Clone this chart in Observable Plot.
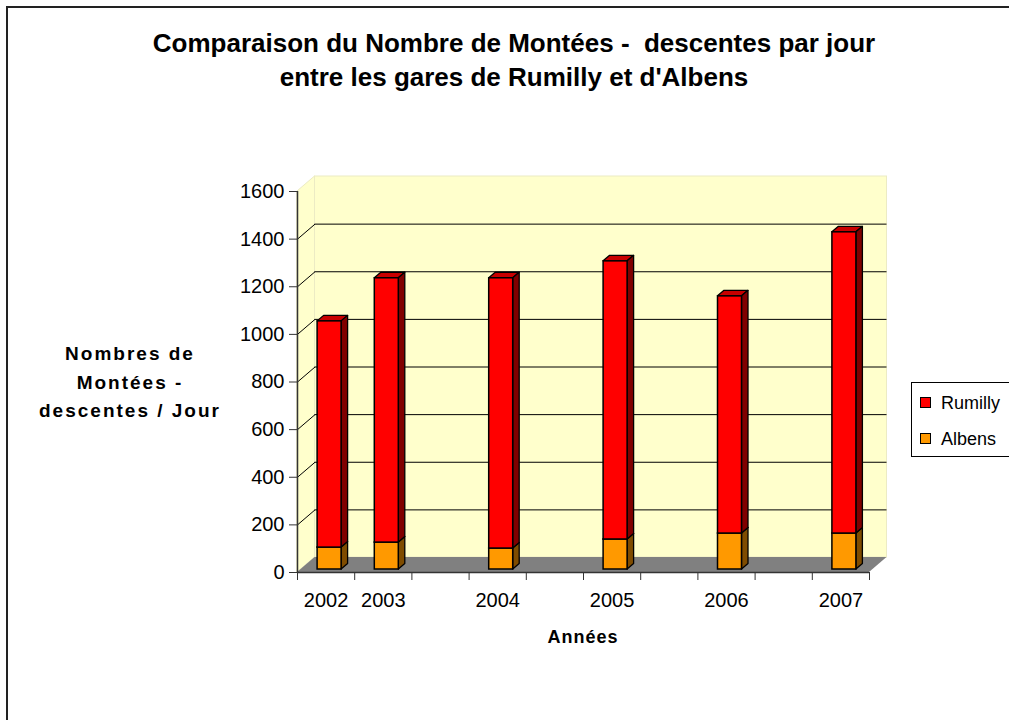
<!DOCTYPE html>
<html><head><meta charset="utf-8">
<script src="https://cdn.jsdelivr.net/npm/d3@7"></script>
<script src="https://cdn.jsdelivr.net/npm/@observablehq/plot@0.6"></script>
<style>
body{margin:0;background:#fff;font-family:"Liberation Sans",Arial,sans-serif;}
#wrap{position:relative;width:1009px;height:720px;overflow:hidden;background:#fff;}
#border{position:absolute;left:6px;top:6px;width:1100px;height:800px;border:2px solid #222;}
#chart{position:absolute;left:0;top:0;}
.t{position:absolute;white-space:pre;color:#000;}
#title{left:14px;width:1000px;top:26px;text-align:center;font-weight:bold;font-size:26px;line-height:34px;}
#ytitle{left:30px;width:200px;top:340px;text-align:center;font-weight:bold;font-size:19px;line-height:28.5px;letter-spacing:2px;}
#xtitle{left:483px;width:200px;top:627px;text-align:center;font-weight:bold;font-size:18px;letter-spacing:1px;}
#legend{left:911px;top:382px;width:200px;height:73px;border:1px solid #000;}
.li{position:absolute;left:8px;font-size:18px;line-height:20px;}
.sw{display:inline-block;width:9px;height:9px;border:1px solid #000;margin-right:10px;vertical-align:1px;}
</style></head><body>
<div id="wrap">
<div id="border"></div>
<div id="chart"></div>
<div class="t" id="title">Comparaison du Nombre de Montées -  descentes par jour
entre les gares de Rumilly et d'Albens</div>
<div class="t" id="ytitle">Nombres de
Montées -
descentes / Jour</div>
<div class="t" id="xtitle">Années</div>
<div class="t" id="legend"></div>
</div>
<script>
// ---- data ----
const slots = ["2002","2003","","2004","","2005","","2006","","2007"]; // category slots on the x axis
const years = ["2002","2003","2004","2005","2006","2007"];
const rumilly = [950,1110,1135,1168,996,1265];
const albens = [92,113,88,126,151,151];
const yTicks = [0,200,400,600,800,1000,1200,1400,1600];
const seriesNames = ["Rumilly","Albens"];

// ---- styles ----
const colors = {
  Rumilly: {front:"#ff0000", side:"#800000", top:"#c80000"},
  Albens:  {front:"#ff9900", side:"#7f4c00", top:"#cc7a00"}
};

// ---- layout ----
const W = 1009, H = 720, mL = 297, mR = 140, mT = 191, mB = 148;
const nSlots = slots.length;
const yMax = yTicks[yTicks.length-1];
const pxX = nSlots / (W - mL - mR);   // data units per pixel (x)
const pxY = yMax / (H - mT - mB);     // data units per pixel (y)
const DX = 17.5*pxX, DY = 15*pxY;     // wall depth
const sX = 3.5*pxX, sY = 3*pxY;       // bar front offset
const bX = 6.5*pxX, bY = 5.5*pxY;     // bar depth
const halfW = 12*pxX;                 // half bar width

const rows = years.flatMap((yr, i) => {
  const c = slots.indexOf(yr) + 0.5;
  return [
    {series:"Albens", k:"A"+yr, c, y0:0, y1:albens[i]},
    {series:"Rumilly", k:"R"+yr, c, y0:albens[i], y1:albens[i]+rumilly[i]}
  ];
});

function barMarks(name) {
  const rs = rows.filter(d => d.series === name);
  const col = colors[name];
  const side = rs.flatMap(d => [
    {k:d.k, x:d.c+halfW+sX, y1:d.y0+sY, y2:d.y1+sY},
    {k:d.k, x:d.c+halfW+sX+bX, y1:d.y0+sY+bY, y2:d.y1+sY+bY}
  ]);
  const top = rs.flatMap(d => [
    {k:d.k, y:d.y1+sY, x1:d.c-halfW+sX, x2:d.c+halfW+sX},
    {k:d.k, y:d.y1+sY+bY, x1:d.c-halfW+sX+bX, x2:d.c+halfW+sX+bX}
  ]);
  return [
    Plot.areaX(top, {y:"y", x1:"x1", x2:"x2", z:"k", fill:col.top, stroke:"#000", strokeWidth:1.3}),
    Plot.areaY(side, {x:"x", y1:"y1", y2:"y2", z:"k", fill:col.side, stroke:"#000", strokeWidth:1.3}),
    Plot.rect(rs, {x1:d=>d.c-halfW+sX, x2:d=>d.c+halfW+sX, y1:d=>d.y0+sY, y2:d=>d.y1+sY, fill:col.front, stroke:"#000", strokeWidth:1.5})
  ];
}

const inner = yTicks.slice(1, -1);

const chart = Plot.plot({
  width: W, height: H,
  marginLeft: mL, marginRight: mR, marginTop: mT, marginBottom: mB,
  style: {fontFamily:'"Liberation Sans", Arial, sans-serif', fontSize:"20px", color:"#000", background:"transparent"},
  x: {type:"linear", domain:[0, nSlots]},
  y: {type:"linear", domain:[0, yMax]},
  marks: [
    // back wall
    Plot.rect([yMax], {x1:DX, x2:nSlots+DX, y1:DY, y2:d=>d+DY, fill:"#ffffcc", stroke:"#ecebc4", strokeWidth:1}),
    // left wall
    Plot.areaY([{x:0, y1:0, y2:yMax},{x:DX, y1:DY, y2:yMax+DY}], {x:"x", y1:"y1", y2:"y2", fill:"#ffffcc", stroke:"#ecebc4", strokeWidth:1}),
    // floor
    Plot.areaX([{y:0, x1:0, x2:nSlots},{y:DY, x1:DX, x2:nSlots+DX}], {y:"y", x1:"x1", x2:"x2", fill:"#808080"}),
    // grid lines
    Plot.ruleY(inner, {y:d=>d+DY, x1:DX, x2:nSlots+DX, stroke:"#000", strokeWidth:1}),
    Plot.link(inner, {x1:0, y1:d=>d, x2:DX, y2:d=>d+DY, stroke:"#000", strokeWidth:1}),
    // bars
    ...barMarks("Albens"),
    ...barMarks("Rumilly"),
    // axes
    Plot.ruleX([0], {y1:0, y2:yMax, stroke:"#333", strokeWidth:1.5}),
    Plot.ruleY([0], {x1:0, x2:nSlots, stroke:"#333", strokeWidth:1.5}),
    Plot.axisY(yTicks, {tickSize:8, tickPadding:5, label:null, stroke:"#333", fontSize:20, tickFormat:d=>String(d)}),
    Plot.axisX(d3.range(0, nSlots+1), {tickSize:8, tickFormat:()=>"", label:null, stroke:"#333"}),
    Plot.text(years, {x:d=>slots.indexOf(d)+0.5, y:0, dy:28, text:d=>d, fontSize:20})
  ]
});
document.getElementById("chart").appendChild(chart);

// legend
const leg = document.getElementById("legend");
seriesNames.forEach((n, i) => {
  const div = document.createElement("div");
  div.className = "li";
  div.style.top = (10 + i*36) + "px";
  div.innerHTML = `<span class="sw" style="background:${colors[n].front}"></span>${n}`;
  leg.appendChild(div);
});
</script>
</body></html>
